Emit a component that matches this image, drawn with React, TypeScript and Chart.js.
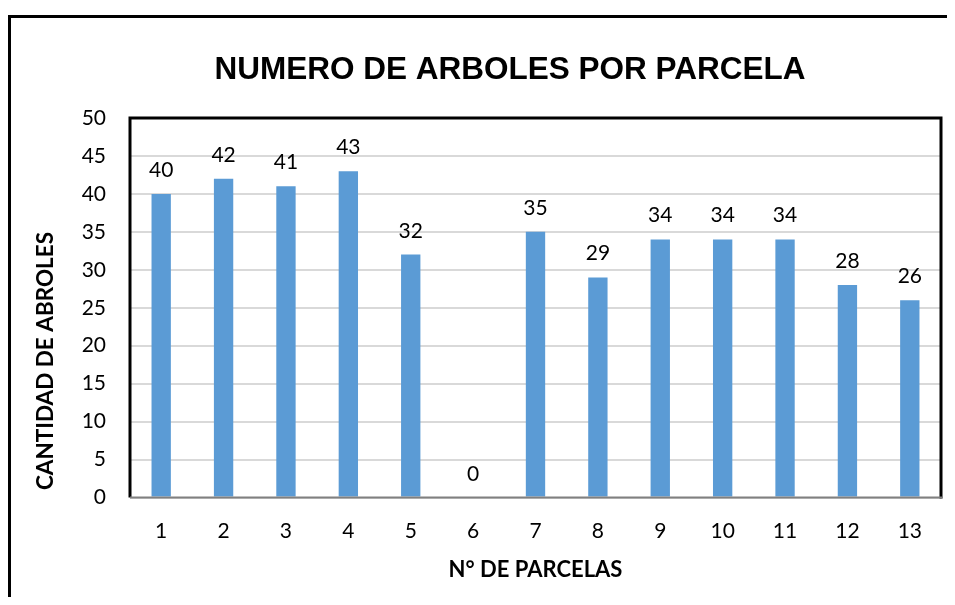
import React, { useEffect, useRef } from "react";
import { Chart, registerables } from "chart.js";

Chart.register(...registerables);

const categories = ["1", "2", "3", "4", "5", "6", "7", "8", "9", "10", "11", "12", "13"];
const treeCounts = [40, 42, 41, 43, 32, 0, 35, 29, 34, 34, 34, 28, 26];
const yMin = 0;
const yMax = 50;
const yStep = 5;
const chartTitle = "NUMERO DE ARBOLES POR PARCELA";
const yAxisTitle = "CANTIDAD DE ABROLES";
const xAxisTitle = "N° DE PARCELAS";

const BAR_COLOR = "#5b9bd5";
const TEXT_FONT = "Lato";

const decorPlugin = {
  id: "decor",
  beforeDraw(chart: any) {
    const { ctx, width, height } = chart;
    ctx.save();
    ctx.fillStyle = "#ffffff";
    ctx.fillRect(0, 0, width, height);
    ctx.restore();
  },
  afterDatasetsDraw(chart: any) {
    const { ctx, chartArea: a, width, height } = chart;
    ctx.save();
    // outer frame (left and top edges visible)
    ctx.strokeStyle = "#000000";
    ctx.lineWidth = 3;
    ctx.beginPath();
    ctx.moveTo(1.5, height);
    ctx.lineTo(1.5, 8.5);
    ctx.lineTo(width, 8.5);
    ctx.stroke();

    // plot-area border
    ctx.beginPath();
    ctx.moveTo(a.left, a.bottom);
    ctx.lineTo(a.left, a.top);
    ctx.lineTo(a.right, a.top);
    ctx.lineTo(a.right, a.bottom + 1);
    ctx.stroke();

    // category axis line
    ctx.strokeStyle = "#808080";
    ctx.lineWidth = 2;
    ctx.beginPath();
    ctx.moveTo(a.left, a.bottom);
    ctx.lineTo(a.right + 1.5, a.bottom);
    ctx.stroke();

    // data labels
    const meta = chart.getDatasetMeta(0);
    ctx.fillStyle = "#000000";
    ctx.font = `21px ${TEXT_FONT}`;
    ctx.textAlign = "center";
    ctx.textBaseline = "alphabetic";
    meta.data.forEach((bar: any, i: number) => {
      ctx.fillText(String(treeCounts[i]), bar.x, bar.y - 17);
    });

    // main title
    ctx.font = "bold 31.5px 'Liberation Sans', Arial, sans-serif";
    ctx.textAlign = "center";
    ctx.fillText(chartTitle, 502, 71);

    // x axis title
    ctx.font = `bold 22px ${TEXT_FONT}`;
    ctx.fillText(xAxisTitle, (a.left + a.right) / 2, 569);

    // y axis title
    ctx.translate(45, 353);
    ctx.rotate(-Math.PI / 2);
    ctx.font = `bold 22.5px ${TEXT_FONT}`;
    ctx.fillText(yAxisTitle, 0, 0);
    ctx.restore();
  },
};

export default function App() {
  const canvasRef = useRef<HTMLCanvasElement | null>(null);

  useEffect(() => {
    if (!canvasRef.current) return;
    const chart = new Chart(canvasRef.current, {
      type: "bar",
      data: {
        labels: categories,
        datasets: [
          {
            data: treeCounts,
            backgroundColor: BAR_COLOR,
            borderWidth: 0,
            barPercentage: 0.31,
            categoryPercentage: 1,
          },
        ],
      },
      options: {
        animation: false,
        responsive: true,
        maintainAspectRatio: false,
        layout: { padding: { top: 110, right: 14, left: 0, bottom: 0 } },
        plugins: {
          legend: { display: false },
          title: { display: false },
          tooltip: { enabled: false },
        },
        scales: {
          x: {
            grid: { display: false, drawTicks: false },
            border: { display: false },
            ticks: {
              color: "#000000",
              font: { family: TEXT_FONT, size: 21 },
              padding: 21,
              maxRotation: 0,
            },
            afterFit(scale: any) {
              scale.height = 107.5;
            },
          },
          y: {
            min: yMin,
            max: yMax,
            grid: { color: "#d9d9d9", lineWidth: 2, drawTicks: false },
            border: { display: false },
            ticks: {
              stepSize: yStep,
              color: "#000000",
              font: { family: TEXT_FONT, size: 21 },
              padding: 24,
            },
            afterFit(scale: any) {
              scale.width = 122;
            },
          },
        },
      },
      plugins: [decorPlugin],
    });
    return () => chart.destroy();
  }, []);

  return (
    <div style={{ position: "relative", width: 947, height: 597, marginBottom: -8 }}>
      <canvas ref={canvasRef} />
    </div>
  );
}
